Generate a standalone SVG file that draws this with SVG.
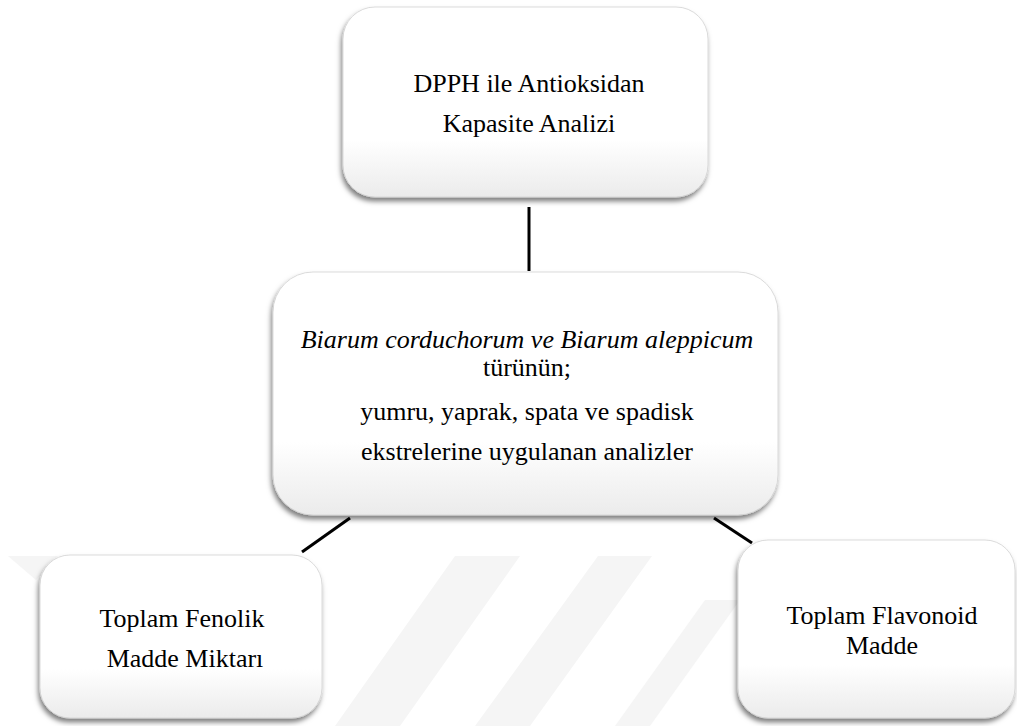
<svg xmlns="http://www.w3.org/2000/svg" width="1017" height="726" viewBox="0 0 1017 726">
<style>
  .box { fill: url(#boxgrad); stroke: #d2d2d2; stroke-width: 0.8; filter: url(#shadow); }
  .t { font-size: 26px; fill: #000; text-anchor: middle; }
  .it { font-style: italic; }
  .conn { stroke: #000; stroke-width: 3; fill: none; }
  .wm { fill: #f5f5f5; }
</style>
<defs>
  <linearGradient id="boxgrad" x1="0" y1="0" x2="0" y2="1">
    <stop offset="0" stop-color="#ffffff"/>
    <stop offset="0.7" stop-color="#ffffff"/>
    <stop offset="1" stop-color="#ebebeb"/>
  </linearGradient>
  <filter id="shadow" x="-10%" y="-10%" width="120%" height="125%">
    <feDropShadow dx="-1.5" dy="4" stdDeviation="2.5" flood-color="#000" flood-opacity="0.5"/>
  </filter>
</defs>
<rect width="1017" height="726" fill="#ffffff"/>
<g id="watermark">
  <polygon class="wm" points="8,556 58,556 36,580"/>
  <polygon class="wm" points="455,556 520,556 400,726 335,726"/>
  <polygon class="wm" points="598,556 652,556 530,726 475,726"/>
  <polygon class="wm" points="705,600 740,600 650,726 615,726"/>
</g>
<g id="connectors">
  <line class="conn" x1="529" y1="207" x2="529" y2="271"/>
  <line class="conn" x1="350" y1="518" x2="302" y2="552"/>
  <line class="conn" x1="714" y1="518" x2="752" y2="543"/>
</g>
<g font-family="Liberation Serif, Times New Roman, DejaVu Serif, serif">
<g id="node-dpph">
  <rect class="box" x="343" y="7" width="365" height="190" rx="32"/>
  <text class="t" x="529" y="92">DPPH ile Antioksidan</text>
  <text class="t" x="529" y="132">Kapasite Analizi</text>
</g>
<g id="node-center">
  <rect class="box" x="273" y="272" width="505" height="243" rx="40"/>
  <text class="t it" x="527" y="348">Biarum corduchorum ve Biarum aleppicum</text>
  <text class="t" x="527" y="376">türünün;</text>
  <text class="t" x="527" y="420">yumru, yaprak, spata ve spadisk</text>
  <text class="t" x="527" y="460">ekstrelerine uygulanan analizler</text>
</g>
<g id="node-fenolik">
  <rect class="box" x="40" y="555" width="282" height="163" rx="30"/>
  <text class="t" x="182" y="627">Toplam Fenolik</text>
  <text class="t" x="185" y="667">Madde Miktarı</text>
</g>
<g id="node-flavonoid">
  <rect class="box" x="738" y="540" width="277" height="178" rx="30"/>
  <text class="t" x="882" y="624">Toplam Flavonoid</text>
  <text class="t" x="882" y="654">Madde</text>
</g>
</g>
</svg>
